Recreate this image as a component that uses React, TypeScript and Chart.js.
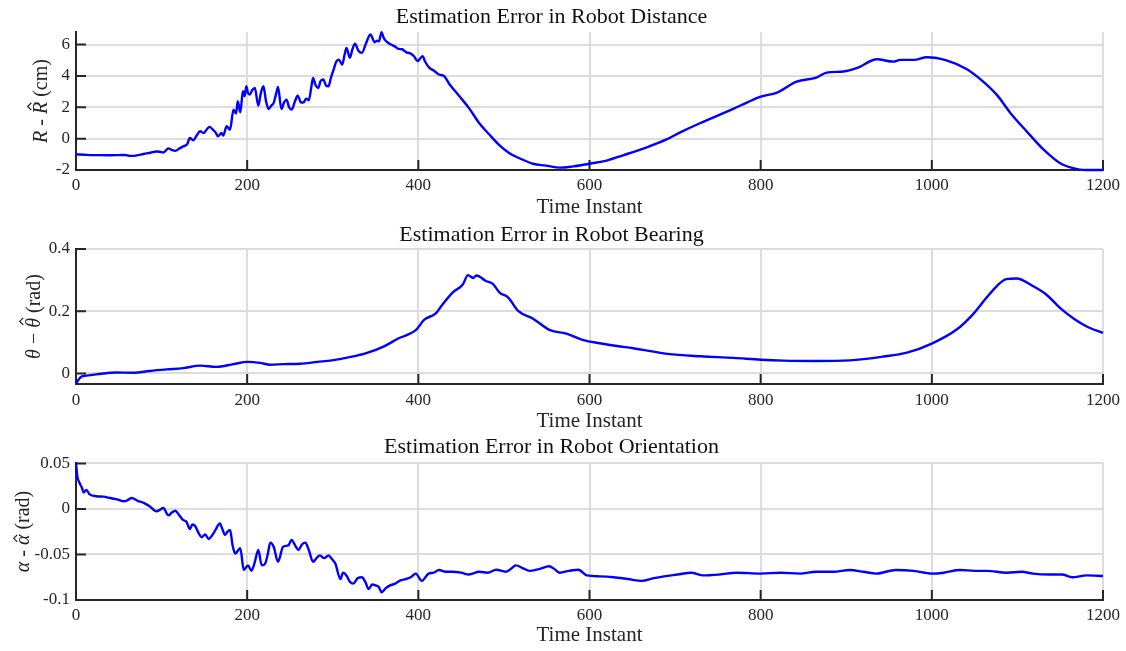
import React, { useEffect, useRef } from 'react';
import { Chart, registerables } from 'chart.js';

Chart.register(...registerables);

// ---------------- DATA ----------------
const xTickValues = [0, 200, 400, 600, 800, 1000, 1200];

const distanceTicks = [-2, 0, 2, 4, 6];
const distanceTickLabels = ['-2', '0', '2', '4', '6'];
const bearingTicks = [0, 0.2, 0.4];
const bearingTickLabels = ['0', '0.2', '0.4'];
const orientationTicks = [-0.1, -0.05, 0, 0.05];
const orientationTickLabels = ['-0.1', '-0.05', '0', '0.05'];

const distanceX = [
  0, 10, 20, 30, 40, 50, 57, 63, 70, 79, 87, 94, 98, 102, 108, 112, 116, 121, 125, 130,
  133, 137, 141, 145, 149, 153, 156, 160, 163, 166, 170, 172, 176, 180, 184, 187, 189, 192, 195, 197,
  199, 201, 203, 206, 209, 213, 216, 219, 222, 225, 228, 231, 234, 236, 240, 243, 246, 249, 252, 256,
  259, 263, 266, 269, 272, 275, 277, 280, 283, 286, 289, 292, 295, 298, 301, 304, 307, 311, 314, 316,
  320, 323, 326, 330, 334, 339, 344, 349, 352, 354, 357, 359, 361, 365, 368, 372, 377, 381, 386, 390,
  395, 399, 402, 405, 408, 413, 418, 424, 430, 436, 448, 459, 471, 483, 494, 506, 518, 534, 549, 565,
  581, 590, 600, 620, 640, 667, 690, 706, 729, 745, 768, 784, 800, 819, 842, 865, 877, 897, 912, 936,
  955, 963, 979, 994, 1018, 1041, 1060, 1076, 1092, 1111, 1131, 1150, 1170, 1185, 1200,
];
const distanceY = [
  -1.0, -1.03, -1.05, -1.05, -1.06, -1.05, -1.04, -1.1, -1.08, -0.98, -0.9, -0.82, -0.84, -0.88, -0.62, -0.72, -0.78, -0.62, -0.5, -0.35,
  0.04, -0.1, 0.2, 0.47, 0.36, 0.6, 0.75, 0.57, 0.4, 0.15, 0.36, 0.19, 0.79, 0.57, 1.85, 1.6, 2.38, 1.68, 3.02, 2.7,
  3.34, 2.9, 2.81, 3.1, 3.23, 2.1, 2.9, 3.34, 2.4, 1.89, 2.1, 2.28, 2.9, 3.3, 1.89, 2.3, 2.49, 2.0, 1.85, 2.4,
  2.74, 2.3, 2.32, 2.55, 2.45, 3.3, 3.87, 3.4, 3.23, 3.7, 3.77, 3.4, 3.34, 3.9, 4.4, 4.9, 5.04, 4.72, 5.4, 5.79,
  5.15, 5.7, 6.06, 5.6, 5.47, 6.1, 6.64, 6.15, 6.25, 6.2, 6.79, 6.5, 6.3, 6.1, 6.0, 5.9, 5.72, 5.7, 5.5, 5.45,
  5.25, 4.94, 5.1, 5.26, 4.9, 4.51, 4.35, 4.09, 4.0, 3.5, 2.7, 1.96, 1.0, 0.26, -0.38, -0.91, -1.25, -1.6, -1.72, -1.85,
  -1.77, -1.7, -1.6, -1.4, -1.05, -0.55, -0.05, 0.4, 0.98, 1.35, 1.9, 2.3, 2.68, 2.94, 3.64, 3.89, 4.21, 4.28, 4.49, 5.06,
  4.91, 5.02, 5.02, 5.19, 4.98, 4.43, 3.64, 2.79, 1.62, 0.45, -0.72, -1.57, -1.94, -2.0, -2.0,
];

const bearingX = [
  0, 3, 6, 12, 27, 47, 67, 86, 106, 125, 145, 164, 184, 200, 215, 227, 243, 262, 282, 299,
  321, 340, 360, 377, 397, 407, 420, 428, 440, 452, 458, 464, 468, 479, 487, 495, 505, 517, 534, 554,
  573, 593, 612, 632, 651, 691, 730, 768, 800, 827, 865, 904, 943, 971, 1000, 1029, 1048, 1064, 1076, 1087,
  1099, 1118, 1134, 1150, 1166, 1181, 1200,
];
const bearingY = [
  -0.032, -0.02, -0.011, -0.007, -0.002, 0.003, 0.002, 0.008, 0.013, 0.017, 0.025, 0.021, 0.03, 0.037, 0.034, 0.028, 0.03, 0.031, 0.037, 0.042,
  0.053, 0.066, 0.087, 0.113, 0.139, 0.173, 0.192, 0.221, 0.26, 0.286, 0.316, 0.307, 0.315, 0.297, 0.288, 0.26, 0.244, 0.2, 0.176, 0.139,
  0.128, 0.107, 0.097, 0.088, 0.081, 0.063, 0.055, 0.05, 0.044, 0.041, 0.04, 0.042, 0.054, 0.067, 0.096, 0.141, 0.19, 0.244, 0.281, 0.303,
  0.305, 0.281, 0.253, 0.21, 0.176, 0.151, 0.13,
];

const orientationX = [
  0, 1.5, 4, 7, 9, 12, 16, 24, 32, 40, 48, 55, 60, 65, 72, 79, 86, 94, 98, 102,
  108, 112, 116, 120, 125, 129, 133, 136, 139, 143, 147, 151, 155, 159, 163, 168, 171, 174, 177, 180,
  183, 186, 189, 192, 196, 201, 205, 209, 213, 217, 221, 224, 227, 231, 236, 242, 248, 252, 256, 260,
  264, 268, 272, 277, 281, 285, 290, 295, 299, 303, 309, 312, 316, 320, 324, 329, 334, 338, 342, 346,
  350, 354, 357, 362, 367, 373, 379, 385, 391, 397, 404, 412, 418, 424, 432, 440, 450, 459, 471, 481,
  491, 502, 508, 514, 522, 530, 541, 553, 559, 565, 576, 587, 597, 612, 628, 645, 661, 675, 687, 703,
  719, 733, 752, 772, 800, 823, 846, 865, 885, 904, 920, 935, 958, 979, 1000, 1014, 1033, 1050, 1064, 1088,
  1105, 1118, 1138, 1152, 1164, 1181, 1200,
];
const orientationY = [
  0.051, 0.036, 0.029, 0.023, 0.018, 0.021, 0.016, 0.014, 0.0135, 0.012, 0.0105, 0.0085, 0.0095, 0.012, 0.009, 0.0067, 0.003, -0.0026, -0.001, 0.001,
  -0.007, -0.004, -0.002, -0.006, -0.012, -0.014, -0.022, -0.017, -0.0185, -0.026, -0.031, -0.028, -0.033, -0.029, -0.023, -0.016, -0.022, -0.0285, -0.025, -0.023,
  -0.04, -0.049, -0.046, -0.043, -0.067, -0.062, -0.068, -0.058, -0.045, -0.062, -0.06, -0.05, -0.037, -0.0415, -0.058, -0.0415, -0.04, -0.034, -0.04, -0.045,
  -0.039, -0.037, -0.045, -0.058, -0.054, -0.051, -0.054, -0.051, -0.055, -0.06, -0.077, -0.07, -0.073, -0.08, -0.082, -0.076, -0.075, -0.08, -0.088, -0.083,
  -0.084, -0.086, -0.0915, -0.087, -0.084, -0.082, -0.0785, -0.077, -0.075, -0.071, -0.079, -0.071, -0.07, -0.067, -0.069, -0.069, -0.07, -0.072, -0.069, -0.07,
  -0.0667, -0.069, -0.066, -0.062, -0.065, -0.068, -0.066, -0.063, -0.066, -0.07, -0.068, -0.0667, -0.073, -0.074, -0.075, -0.077, -0.079, -0.076, -0.074, -0.072,
  -0.07, -0.073, -0.072, -0.07, -0.071, -0.07, -0.071, -0.069, -0.069, -0.067, -0.069, -0.071, -0.067, -0.068, -0.071, -0.07, -0.067, -0.068, -0.068, -0.07,
  -0.069, -0.071, -0.072, -0.072, -0.075, -0.073, -0.0737,
];

// ---------------- STYLE / LAYOUT ----------------
const FONT = '"Liberation Serif", "Times New Roman", serif';
const TEXT = '#262626';
const LINE = 'rgb(0,0,255)';
const GRID = '#dcdcdc';

type Seg = { t: string; i?: boolean; hat?: boolean };

const panels = [
  {
    title: 'Estimation Error in Robot Distance',
    xs: distanceX, ys: distanceY, ticks: distanceTicks, labels: distanceTickLabels,
    yMin: -2, yMax: 6.8,
    yTitle: [{ t: 'R', i: true }, { t: ' - ' }, { t: 'R', i: true, hat: true }, { t: ' (cm)' }] as Seg[],
    yTitleX: 42, top: 0, height: 220, titlePadTop: 4.5, titlePadBottom: 1.1, xAxisHeight: 50, tickPad: 5,
  },
  {
    title: 'Estimation Error in Robot Bearing',
    xs: bearingX, ys: bearingY, ticks: bearingTicks, labels: bearingTickLabels,
    yMin: -0.034, yMax: 0.4,
    yTitle: [{ t: 'θ', i: true }, { t: ' − ' }, { t: 'θ', i: true, hat: true }, { t: ' (rad)' }] as Seg[],
    yTitleX: 35, top: 218, height: 216, titlePadTop: 4.5, titlePadBottom: 0.1, xAxisHeight: 50, tickPad: 6,
  },
  {
    title: 'Estimation Error in Robot Orientation',
    xs: orientationX, ys: orientationY, ticks: orientationTicks, labels: orientationTickLabels,
    yMin: -0.1, yMax: 0.0505,
    yTitle: [{ t: 'α', i: true }, { t: ' - ' }, { t: 'α', i: true, hat: true }, { t: ' (rad)' }] as Seg[],
    yTitleX: 24, top: 430, height: 218, titlePadTop: 4.5, titlePadBottom: 2.1, xAxisHeight: 48, tickPad: 5,
  },
];

const innerTicks = {
  id: 'innerTicks',
  beforeDatasetsDraw(chart: any) {
    const { ctx, chartArea: a, scales } = chart;
    const x = scales.x, y = scales.y;
    ctx.save();
    ctx.strokeStyle = TEXT;
    ctx.lineWidth = 2;
    ctx.beginPath();
    x.ticks.forEach((t: any) => {
      const px = x.getPixelForValue(t.value);
      ctx.moveTo(px, a.bottom);
      ctx.lineTo(px, a.bottom - 10);
    });
    y.ticks.forEach((t: any) => {
      const py = y.getPixelForValue(t.value);
      ctx.moveTo(a.left, py);
      ctx.lineTo(a.left + 10, py);
    });
    ctx.stroke();
    ctx.restore();
  },
};

const richYTitle = {
  id: 'richYTitle',
  afterDraw(chart: any, _args: any, opts: any) {
    const segs: Seg[] = opts.segments || [];
    const { ctx, chartArea: a } = chart;
    const size = 20;
    const fontOf = (s: Seg) => `${s.i ? 'italic ' : ''}${size}px ${FONT}`;
    let total = 0;
    const widths = segs.map((s) => {
      ctx.font = fontOf(s);
      const w = ctx.measureText(s.t).width;
      total += w;
      return w;
    });
    ctx.save();
    ctx.translate(opts.x, (a.top + a.bottom) / 2);
    ctx.rotate(-Math.PI / 2);
    ctx.fillStyle = TEXT;
    ctx.strokeStyle = TEXT;
    ctx.textBaseline = 'middle';
    ctx.textAlign = 'left';
    let cx = -total / 2;
    segs.forEach((s, k) => {
      ctx.font = fontOf(s);
      ctx.fillText(s.t, cx, 0);
      if (s.hat) {
        const m = ctx.measureText(s.t);
        const topY = -m.actualBoundingBoxAscent;
        const mid = cx + widths[k] / 2 + 1.5;
        const hw = Math.max(3.5, widths[k] * 0.3);
        ctx.lineWidth = 1.3;
        ctx.beginPath();
        ctx.moveTo(mid - hw, topY - 2);
        ctx.lineTo(mid, topY - 5.5);
        ctx.lineTo(mid + hw, topY - 2);
        ctx.stroke();
      }
      cx += widths[k];
    });
    ctx.restore();
  },
};

function Panel({ p }: { p: (typeof panels)[number] }) {
  const ref = useRef<HTMLCanvasElement | null>(null);
  useEffect(() => {
    if (!ref.current) return;
    const chart = new Chart(ref.current, {
      type: 'line',
      data: {
        datasets: [
          {
            data: p.xs.map((x, i) => ({ x, y: p.ys[i] })),
            borderColor: LINE,
            borderWidth: 2.4,
            pointRadius: 0,
            cubicInterpolationMode: 'monotone',
            fill: false,
            clip: false as any,
          },
        ],
      },
      options: {
        animation: false,
        responsive: false,
        devicePixelRatio: 1,
        layout: { padding: { left: 0, right: 23, top: 0, bottom: 0 } },
        plugins: {
          legend: { display: false },
          tooltip: { enabled: false },
          title: {
            display: true,
            text: p.title,
            color: '#111111',
            font: { family: FONT, size: 22, weight: 'normal' as any },
            padding: { top: p.titlePadTop, bottom: p.titlePadBottom },
          },
          richYTitle: { segments: p.yTitle, x: p.yTitleX },
        } as any,
        scales: {
          x: {
            type: 'linear',
            min: 0,
            max: 1200,
            afterBuildTicks: (s: any) => {
              s.ticks = xTickValues.map((v) => ({ value: v }));
            },
            afterFit: (s: any) => {
              s.height = p.xAxisHeight;
            },
            ticks: {
              color: TEXT,
              font: { family: FONT, size: 17 },
              padding: p.tickPad,
              maxRotation: 0,
              callback: (v: any) => String(v),
            },
            grid: { color: GRID, lineWidth: 2, drawTicks: false },
            border: { display: true, color: TEXT, width: 2 },
            title: {
              display: true,
              text: 'Time Instant',
              color: TEXT,
              font: { family: FONT, size: 21 },
              padding: { top: 0, bottom: 0 },
            },
          },
          y: {
            type: 'linear',
            min: p.yMin,
            max: p.yMax,
            afterBuildTicks: (s: any) => {
              s.ticks = p.ticks.map((v) => ({ value: v }));
            },
            afterFit: (s: any) => {
              s.width = 76;
            },
            ticks: {
              color: TEXT,
              font: { family: FONT, size: 17 },
              padding: 6,
              callback: (v: any) => {
                const idx = p.ticks.findIndex((t) => Math.abs(t - v) < 1e-9);
                return idx >= 0 ? p.labels[idx] : '';
              },
            },
            grid: { color: GRID, lineWidth: 2, drawTicks: false },
            border: { display: true, color: TEXT, width: 2 },
          },
        },
      },
      plugins: [innerTicks, richYTitle],
    });
    return () => chart.destroy();
  }, [p]);
  return (
    <canvas
      ref={ref}
      width={1126}
      height={p.height}
      style={{ position: 'absolute', left: 0, top: p.top, width: 1126, height: p.height, display: 'block' }}
    />
  );
}

export default function App() {
  return (
    <div style={{ position: 'absolute', left: 0, top: 0, width: 1126, height: 651, background: '#ffffff', overflow: 'hidden' }}>
      {panels.map((p, i) => (
        <Panel key={i} p={p} />
      ))}
    </div>
  );
}
